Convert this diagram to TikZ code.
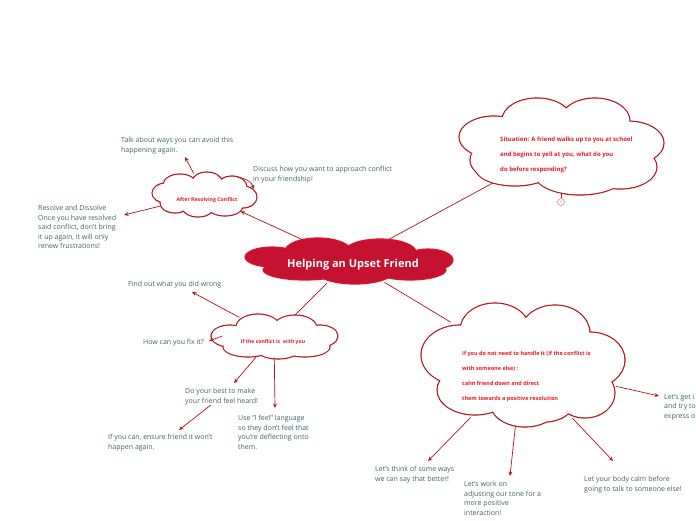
\documentclass[tikz,border=0pt]{standalone}
\usepackage{fontspec}
\setmainfont{Open Sans}
\usetikzlibrary{shapes.geometric,arrows.meta}
\definecolor{txtc}{HTML}{3F6366}
\definecolor{linec}{HTML}{B5121B}
\definecolor{cloudtxt}{HTML}{E8192C}
\definecolor{ctrfill}{HTML}{C41230}
\definecolor{ctrrim}{HTML}{E0142F}
\newcommand{\drawpuffs}[3]{%
  \foreach \cx/\cy/\rx/\ry in {#3} {\fill[#1] (\cx,\cy) ellipse [x radius={(\rx+0.6)*1pt}, y radius={(\ry+0.6)*1pt}];}
  \foreach \cx/\cy/\rx/\ry in {#3} {\fill[#2] (\cx,\cy) ellipse [x radius={(\rx-0.6)*1pt}, y radius={(\ry-0.6)*1pt}];}
}
\tikzset{
  hub/.style={ellipse, draw=none, inner sep=0pt},
  txt/.style={anchor=north west, align=left, inner sep=0pt, text=txtc, font=\fontsize{7}{9.6}\selectfont},
  ctxt/.style={inner sep=0pt, text=cloudtxt},
  conn/.style={draw=linec, line width=0.7pt},
  arr/.style={conn, -{Stealth[length=4.5pt,width=3.8pt]}},
}
\begin{document}
\begin{tikzpicture}[x=1pt,y=-1pt]
\useasboundingbox (0,0) rectangle (696,520);
% anchor ellipses for the clouds
\node[hub, minimum width=206pt, minimum height=45pt] (ctr) at (349,261) {};
\node[hub, minimum width=104pt, minimum height=44pt] (after) at (205,195) {};
\node[hub, minimum width=125pt, minimum height=44pt] (conf) at (274,336) {};
\node[hub, minimum width=203pt, minimum height=96pt] (sit) at (561,146) {};
\node[hub, minimum width=200pt, minimum height=122pt] (lr) at (522,365) {};
% arrow tips
\coordinate (tTalk) at (185,157);
\coordinate (tResolve) at (124,215);
\coordinate (tDiscuss) at (254,189);
\coordinate (tFind) at (192,292);
\coordinate (tFix) at (209,341);
\coordinate (tDo) at (234,383);
\coordinate (tUse) at (275,408);
\coordinate (tIf) at (179,430);
\coordinate (tGet) at (659,396);
\coordinate (tThink) at (428,461);
\coordinate (tWork) at (510,476);
\coordinate (tBody) at (613,461);
% main connectors
\draw[conn] (ctr) -- (sit);
\draw[conn] (ctr) -- (conf);
\draw[conn] (ctr) -- (lr);
% clouds
\drawpuffs{ctrrim}{ctrfill}{318/251/33/13, 380/252/36/13, 428/260/25/11, 410/270/36/10, 355/272/38/12, 305/270/42/10, 272/257/27/10, 349/261/80/14}
\drawpuffs{linec}{white}{180/185/17/11, 207/184/16/12, 232/187/15/11, 243/197/14/11, 225/206/18/10, 198/207/16/10, 175/203/15/10, 166/193/14/10, 205/195/38/12}
\drawpuffs{linec}{white}{258/327/22/13, 295/328/22/13, 320/336/18/11, 305/347/25/10, 278/349/22/10, 248/347/25/10, 230/336/19/11, 274/337/50/12}
\drawpuffs{linec}{white}{537/120/35/22, 595/121/35/23, 628/143/36/22, 620/167/37/22, 580/175/45/20, 515/168/40/18, 494/137/35/21, 500/160/30/20, 561/146/80/35}
\drawpuffs{linec}{white}{495/330/35/27, 555/333/35/28, 590/360/35/28, 585/393/30/25, 545/400/30/22, 525/403/35/24, 475/390/38/25, 460/355/39/30, 522/365/75/45}
% cloud texts
\node[inner sep=0pt, text=white, font=\fontsize{11}{13}\selectfont\bfseries] (ctrt) at (353,265) {Helping an Upset Friend};
\node[ctxt, font=\fontsize{5.2}{6}\selectfont\bfseries] (aftert) at (207,200) {After Resolving Conflict};
\node[ctxt, font=\fontsize{5.1}{6}\selectfont\bfseries] (conft) at (273,342) {If the conflict is\ \ with you};
\node[ctxt, anchor=north west, align=left, font=\fontsize{6}{15}\selectfont\bfseries] (sitt) at (500,137) {Situation: A friend walks up to you at school\\and begins to yell at you, what do you\\do before responding?};
\node[ctxt, anchor=north west, align=left, font=\fontsize{5.5}{15}\selectfont\bfseries] (lrt) at (462,351) {If you do not need to handle it (if the conflict is\\with someone else) :\\calm friend down and direct\\them towards a positive resolution};
% badge
\node[circle, draw=linec!60, line width=0.5pt, inner sep=0pt, minimum size=7pt, text=linec!70, font=\fontsize{3.5}{4}\selectfont] (badge) at (561,202) {3};
\draw[conn, line width=0.5pt] (sit) -- (badge);
% texts
\node[txt] (talk) at (121,137) {Talk about ways you can avoid this\\happening again.};
\node[txt] (discuss) at (253,166) {Discuss how you want to approach conflict\\in your friendship!};
\node[txt] (resolve) at (38,205) {Resolve and Dissolve\\Once you have resolved\\said conflict, don't bring\\it up again, it will only\\renew frustrations!};
\node[txt] (find) at (128,281) {Find out what you did wrong.};
\node[txt] (fix) at (143,339) {How can you fix it?};
\node[txt] (dobest) at (185,388) {Do your best to make\\your friend feel heard!};
\node[txt] (usei) at (238,415) {Use "I feel" language\\so they don't feel that\\you're deflecting onto\\them.};
\node[txt] (ifcan) at (108,434) {If you can, ensure friend it won't\\happen again.};
\node[txt] (getin) at (664,394) {Let's get i\\and try to\\express o};
\node[txt] (think) at (375,466) {Let's think of some ways\\we can say that better!};
\node[txt] (work) at (464,481) {Let's work on\\adjusting our tone for a\\more positive\\interaction!};
\node[txt] (body) at (584,476) {Let your body calm before\\going to talk to someone else!};
% arrows
\draw[arr] (ctr) -- (after);
\draw[arr] (after) -- (tTalk);
\draw[arr] (after) -- (tResolve);
\draw[arr] (after.28) to[bend left=35] (tDiscuss);
\draw[arr] (conf) -- (tFind);
\draw[arr] ([xshift=11pt]conf.west) -- (tFix);
\draw[arr] (conf) -- (tDo);
\draw[arr] (conf) -- (tUse);
\draw[arr] (dobest) -- (tIf);
\draw[arr] (lr) -- (tGet);
\draw[arr] (lr) -- (tThink);
\draw[arr] (lr) -- (tWork);
\draw[arr] (lr) -- (tBody);
\end{tikzpicture}
\end{document}
